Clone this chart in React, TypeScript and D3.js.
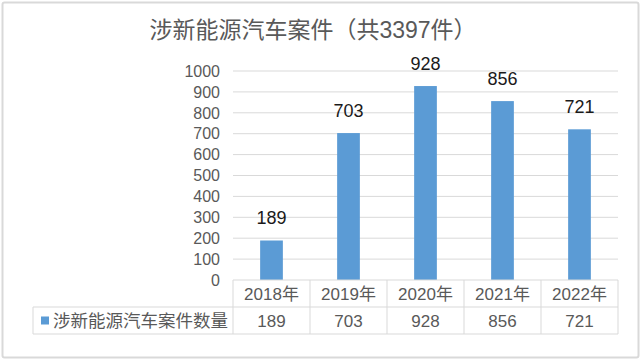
import * as d3 from 'd3';

const title = '涉新能源汽车案件（共3397件）';
const seriesName = '涉新能源汽车案件数量';
const years = ['2018年', '2019年', '2020年', '2021年', '2022年'];
const cases = [189, 703, 928, 856, 721];
const yTicks = [0, 100, 200, 300, 400, 500, 600, 700, 800, 900, 1000];

const FONT = '"Liberation Sans", Arial, "Noto Sans CJK SC", sans-serif';
const BLUE = '#5B9BD5';
const GRID = '#d9d9d9';
const TEXT = '#595959';

export default function App() {
  const width = 641;
  const height = 360;
  const plot = { left: 233, right: 618, top: 71, bottom: 280 };
  const rowMid = 307;
  const tableBottom = 334;
  const legendLeft = 33;

  const x = d3.scaleBand<string>().domain(years).range([plot.left, plot.right]).padding(0);
  const y = d3.scaleLinear().domain([0, 1000]).range([plot.bottom, plot.top]);
  const barW = x.bandwidth() * 0.295;

  const colEdges = years.map((d) => x(d) || 0).concat([plot.right]);

  return (
    <svg
      width={width}
      height={height}
      style={{ position: 'absolute', left: 0, top: 0, fontFamily: FONT }}
    >
      <rect x={0} y={0} width={width} height={height} fill="#fff" />
      <rect
        x={2.5}
        y={2.5}
        width={width - 5}
        height={height - 5}
        fill="none"
        stroke={GRID}
        strokeWidth={2}
        rx={2}
      />

      {/* title */}
      <text x={313} y={38} textAnchor="middle" fill={TEXT} fontSize={23}>
        {title}
      </text>

      {/* grid lines + y ticks */}
      {yTicks.map((t) => (
        <g key={t}>
          {t > 0 && (
            <line x1={plot.left} x2={plot.right} y1={y(t)} y2={y(t)} stroke={GRID} strokeWidth={1} />
          )}
          <text x={220} y={y(t)} dy="0.36em" textAnchor="end" fill={TEXT} fontSize={16}>
            {t}
          </text>
        </g>
      ))}

      {/* bars */}
      {years.map((yr, i) => {
        const cx = (x(yr) || 0) + x.bandwidth() / 2;
        return (
          <g key={yr}>
            <rect x={cx - barW / 2} y={y(cases[i])} width={barW} height={plot.bottom - y(cases[i])} fill={BLUE} />
            <text x={cx} y={y(cases[i]) - 16} textAnchor="middle" fill="#1a1a1a" fontSize={18}>
              {cases[i]}
            </text>
          </g>
        );
      })}

      {/* data table */}
      <g stroke={GRID} strokeWidth={1} fill="none">
        <line x1={plot.left} x2={plot.right} y1={plot.bottom} y2={plot.bottom} />
        <line x1={legendLeft} x2={plot.right} y1={rowMid} y2={rowMid} />
        <line x1={legendLeft} x2={plot.right} y1={tableBottom} y2={tableBottom} />
        <line x1={legendLeft} x2={legendLeft} y1={rowMid} y2={tableBottom} />
        {colEdges.map((cx, i) => (
          <line key={i} x1={cx} x2={cx} y1={plot.bottom} y2={tableBottom} />
        ))}
      </g>
      {years.map((yr, i) => {
        const cx = (x(yr) || 0) + x.bandwidth() / 2;
        return (
          <g key={'t' + yr}>
            <text x={cx} y={(plot.bottom + rowMid) / 2} dy="0.36em" textAnchor="middle" fill={TEXT} fontSize={17}>
              {yr}
            </text>
            <text x={cx} y={(rowMid + tableBottom) / 2} dy="0.36em" textAnchor="middle" fill={TEXT} fontSize={17}>
              {cases[i]}
            </text>
          </g>
        );
      })}
      <rect x={41} y={(rowMid + tableBottom) / 2 - 4} width={8} height={8} fill={BLUE} />
      <text x={53} y={(rowMid + tableBottom) / 2} dy="0.36em" fill={TEXT} fontSize={17.5}>
        {seriesName}
      </text>
    </svg>
  );
}
